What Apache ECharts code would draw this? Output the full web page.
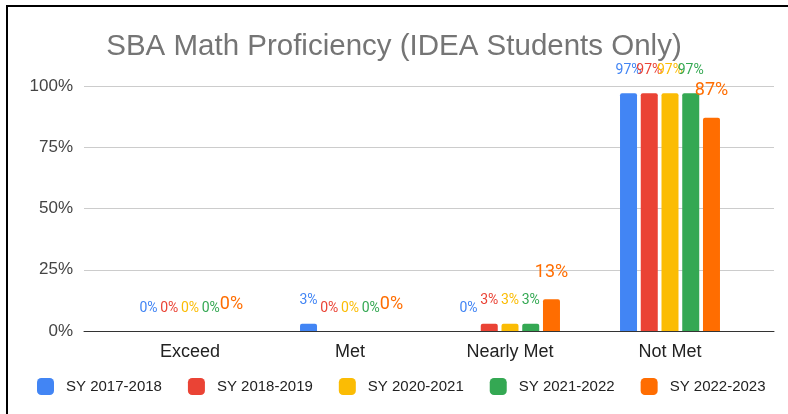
<!DOCTYPE html>
<html>
<head>
<meta charset="utf-8">
<script src="https://cdn.jsdelivr.net/npm/echarts@6/dist/echarts.min.js"></script>
<style>
  html, body { margin: 0; padding: 0; background: #fff; overflow: hidden; }
  #wrap { position: relative; width: 788px; height: 414px; overflow: hidden; }
  #chart { width: 788px; height: 414px; }
  #frame {
    position: absolute; left: 6px; top: 5px; width: 900px; height: 500px;
    border-top: 2px solid #000; border-left: 2px solid #000; pointer-events: none;
  }
</style>
</head>
<body>
<div id="wrap">
  <div id="chart"></div>
  <div id="frame"></div>
</div>
<script>
  // 数据
  const categories = ["Exceed", "Met", "Nearly Met", "Not Met"];
  const seriesNames = ["SY 2017-2018", "SY 2018-2019", "SY 2020-2021", "SY 2021-2022", "SY 2022-2023"];
  const sy1718 = [0, 0.03, 0, 0.97];
  const sy1819 = [0, 0, 0.03, 0.97];
  const sy2021 = [0, 0, 0.03, 0.97];
  const sy2122 = [0, 0, 0.03, 0.97];
  const sy2223 = [0, 0, 0.13, 0.87];
  const yTicks = [0, 0.25, 0.5, 0.75, 1];

  const colors = ["#4285F4", "#EA4335", "#FBBC04", "#34A853", "#FF6D01"];
  const allData = [sy1718, sy1819, sy2021, sy2122, sy2223];

  const chart = echarts.init(document.getElementById("chart"));

  const series = allData.map((d, i) => {
    const big = i === 4;
    return {
      name: seriesNames[i],
      type: "bar",
      xAxisIndex: 1,
      yAxisIndex: 1,
      data: d,
      barWidth: 17,
      barGap: "22%",
      itemStyle: { color: colors[i], borderRadius: [2, 2, 0, 0] },
      label: {
        show: true,
        position: "top",
        distance: big ? 18 : 16,
        color: colors[i],
        fontFamily: "Roboto",
        fontSize: big ? 18 : 14,
        formatter: p => Math.round(p.value * 100) + "%"
      }
    };
  });

  chart.setOption({
    animation: false,
    title: {
      text: "SBA Math Proficiency (IDEA Students Only)",
      left: "center",
      top: 27,
      textStyle: { color: "#757575", fontSize: 29.5, fontWeight: "normal", fontFamily: "Liberation Sans" }
    },
    legend: {
      data: seriesNames,
      left: 32,
      top: 373,
      icon: "roundRect",
      itemWidth: 17,
      itemHeight: 17,
      itemGap: 26,
      textStyle: { color: "#222", fontSize: 15, fontFamily: "Liberation Sans", padding: [0, 0, 0, 7] }
    },
    grid: [
      { left: 84, right: 14, top: 86, bottom: 83 },
      { left: 110, right: 38, top: 86, bottom: 83 }
    ],
    xAxis: [
      {
        gridIndex: 0,
        type: "value",
        min: 0,
        max: 1,
        axisLabel: { show: false },
        axisTick: { show: false },
        splitLine: { show: false },
        axisLine: { show: true, lineStyle: { color: "#333", width: 1 } }
      },
      {
        gridIndex: 1,
        type: "category",
        data: categories,
        axisLine: { show: false },
        axisTick: { show: false },
        axisLabel: { color: "#222", fontSize: 18, margin: 12, fontFamily: "Liberation Sans" }
      }
    ],
    yAxis: [
      {
        gridIndex: 0,
        type: "value",
        min: 0,
        max: 1,
        interval: 0.25,
        axisLine: { show: false },
        axisTick: { show: false },
        axisLabel: {
          color: "#444",
          fontSize: 17,
          margin: 11,
          fontFamily: "Liberation Sans",
          formatter: v => Math.round(v * 100) + "%"
        },
        splitLine: { lineStyle: { color: "#ccc" } }
      },
      {
        gridIndex: 1,
        type: "value",
        min: 0,
        max: 1,
        show: false
      }
    ],
    series: series
  });
</script>
</body>
</html>
